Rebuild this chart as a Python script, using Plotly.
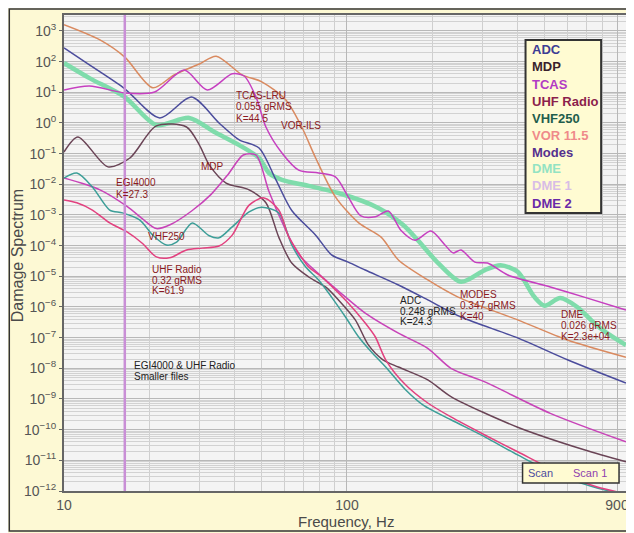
import plotly.graph_objects as go

# ---------------- data (Hz, damage spectrum) ----------------
vor_f = [10, 13.4, 16.4, 20.6, 24.5, 30.1, 34.5, 42.6, 50, 60.8, 69.2, 77.5, 91, 110, 132, 152, 193, 247, 401, 601, 968]
vor_v = [1.6e3, 5.1e2, 1.4e2, 14, 37, 84, 1.5e2, 37, 22, 5.6, 0.74, 0.072, 3.9e-3, 5.5e-4, 1.9e-4, 3.4e-5, 7.6e-6, 2.1e-6, 3.8e-7, 8.4e-8, 2.3e-8]

adc_f = [10, 12.3, 16.4, 21.8, 28.2, 35.3, 41.6, 48.9, 56.1, 63.8, 77.5, 88.2, 101, 116, 152, 193, 253, 401, 601, 968]
adc_v = [2.8e2, 78, 13, 1.46, 7.0, 1.0, 0.28, 0.153, 0.0139, 1.4e-3, 2.2e-4, 5.0e-5, 2.9e-5, 1.6e-5, 5.2e-6, 1.7e-6, 4.7e-7, 9.8e-8, 1.9e-8, 3.3e-9]

dme_f = [10, 12.3, 16.4, 21.2, 27.7, 34.0, 41.6, 48.9, 53, 58.9, 73.2, 93.3, 129, 158, 178, 210, 253, 307, 349, 401, 460, 499, 567, 651, 747, 830, 968]
dme_v = [90, 29, 7.0, 0.86, 1.46, 0.51, 0.19, 0.072, 0.0234, 0.0139, 8.9e-3, 5.2e-3, 1.7e-3, 4.7e-4, 1.5e-4, 2.7e-5, 6.6e-6, 1.6e-5, 2.3e-5, 1.4e-5, 2.1e-6, 1.1e-6, 1.96e-6, 1.0e-6, 3.0e-7, 1.4e-7, 5.7e-8]

tcas_f = [10, 12.3, 16.4, 20.9, 26.6, 32.1, 39.3, 43.3, 47.7, 51.7, 58.9, 67.5, 79.4, 91, 101, 112, 126, 140, 155, 174, 198, 222, 237, 253, 283, 314, 370, 523, 689, 968]
tcas_v = [11.9, 16, 9.5, 10.2, 53, 11.9, 40, 34, 7.0, 0.74, 0.105, 0.029, 0.0234, 0.0174, 3.9e-3, 9.3e-4, 8.7e-4, 1.35e-3, 3.2e-4, 1.5e-4, 3.0e-4, 1.05e-4, 5.8e-5, 7.2e-5, 2.9e-5, 2.7e-5, 1.1e-5, 4.5e-6, 2.1e-6, 8.0e-7]

mdp_f = [10, 11.2, 14.3, 17.1, 21.2, 27.1, 30.1, 32.6, 37.4, 45.1, 51.7, 57.4, 63.8, 73.2, 84, 93.3, 107, 119, 134, 152, 193, 233, 401, 689, 968]
mdp_v = [0.113, 0.35, 0.037, 0.072, 0.8, 0.74, 0.19, 0.043, 0.011, 6.6e-3, 2.5e-3, 1.9e-4, 2.7e-5, 9.5e-6, 4.5e-6, 1.7e-6, 3.8e-7, 5.8e-8, 1.9e-8, 1.1e-8, 4.2e-9, 1.2e-9, 1.2e-10, 2.2e-11, 8.9e-12]

egi_f = [10, 13.4, 16.7, 18.9, 21.2, 23.9, 28.4, 33.1, 38.0, 43.0, 47.7, 53.0, 59.6, 67.5, 79.4, 93.3, 116, 152, 193, 233, 307, 523, 968]
egi_v = [1.6e-2, 6.6e-3, 1.9e-3, 7.6e-4, 3.6e-4, 5.0e-4, 1.4e-3, 4.7e-3, 2.1e-2, 0.09, 0.09, 5.8e-3, 4.7e-4, 5.2e-5, 1.2e-5, 3.3e-6, 6.3e-7, 1.4e-7, 4.5e-8, 1.0e-8, 3.6e-9, 3.4e-10, 4.0e-11]

vhf_f = [10, 11.1, 12.6, 14.5, 16.1, 18.5, 20.6, 23.0, 25.0, 28.4, 32.6, 35.3, 39.3, 45.1, 50, 57.4, 63.8, 71.5, 79.4, 88.2, 98.8, 110, 122, 137, 161, 186, 233, 307, 401, 554, 766, 900]
vhf_v = [0.016, 0.0234, 8.2e-3, 1.45e-3, 1.17e-3, 6.9e-4, 2.2e-4, 1.05e-4, 1.3e-4, 5.5e-4, 2.1e-4, 1.8e-4, 4.1e-4, 1.26e-3, 1.8e-3, 1.17e-3, 1.05e-4, 2.0e-5, 7.6e-6, 2.1e-6, 4.7e-7, 1.05e-7, 3.4e-8, 1.1e-8, 2.0e-9, 6.3e-10, 2.1e-10, 5.8e-11, 1.5e-11, 3.3e-12, 1.26e-12, 8.7e-13]

uhf_f = [10, 11.1, 12.6, 14.5, 16.7, 18.9, 21.2, 23.6, 27.1, 30.8, 35.3, 39.3, 45.1, 50.9, 57.4, 62.3, 67.5, 73.2, 81.4, 91, 101, 116, 126, 137, 161, 193, 233, 307, 401, 554, 766, 937]
uhf_v = [3.1e-3, 2.5e-3, 1.45e-3, 5.5e-4, 2.8e-4, 1.2e-4, 4.3e-5, 4.0e-5, 7.2e-5, 8.3e-5, 9.7e-5, 2.2e-4, 2.1e-3, 3.6e-3, 1.45e-3, 1.9e-4, 5.8e-5, 2.0e-5, 9.5e-6, 3.6e-6, 1.35e-6, 3.0e-7, 1.05e-7, 1.9e-8, 2.9e-9, 7.4e-10, 2.6e-10, 6.7e-11, 1.9e-11, 4.2e-12, 1.35e-12, 8.7e-13]

scan_marker_hz = 16.4

x_tickvals = [10, 100, 900]
x_ticktext = ["10", "100", "900"]
y_exponents = list(range(-12, 4))

legend_names = ["ADC", "MDP", "TCAS", "UHF Radio", "VHF250", "VOR 11.5", "Modes", "DME", "DME 1", "DME 2"]
legend_colors = ["#3d3d94", "#3a1f2c", "#b23cc4", "#8c1f4c", "#1f5e4c", "#ef8a8a", "#55308e", "#93e3c3", "#d8bde6", "#6a2aa8"]

# ---------------- figure ----------------
fig = go.Figure()

def add_line(fx, vy, name, color, width):
    fig.add_trace(go.Scatter(x=fx, y=vy, mode="lines", name=name,
                             line=dict(color=color, width=width, shape="spline", smoothing=0.8),
                             showlegend=False, hoverinfo="skip"))

add_line(dme_f, dme_v, "DME", "#7fdcab", 4.5)
add_line(vor_f, vor_v, "VOR 11.5", "#d98a60", 1.5)
add_line(adc_f, adc_v, "ADC", "#4b4c9c", 1.5)
add_line(tcas_f, tcas_v, "TCAS", "#c63fc0", 1.5)
add_line(mdp_f, mdp_v, "MDP", "#6a4456", 1.5)
add_line(egi_f, egi_v, "DME 2", "#c843b8", 1.5)
add_line(vhf_f, vhf_v, "VHF250", "#3d9e98", 1.5)
add_line(uhf_f, uhf_v, "UHF Radio", "#e2417f", 1.5)

fig.add_trace(go.Scatter(x=[scan_marker_hz, scan_marker_hz], y=[1e-12, 10 ** 3.56], mode="lines",
                         line=dict(color="#c98fd6", width=2.5), showlegend=False, hoverinfo="skip"))

# page body has an 8px margin: work in window pixels, shift by OFF
OFF = 8
W, H = 634 - OFF, 533 - OFF
ml, mr, mt, mb = 64 - OFF, 5, 15 - OFF, 42
pw, ph = W - ml - mr, H - mt - mb

def px(x):
    return (x - OFF - ml) / pw

def py(y):
    return (H - mb - (y - OFF)) / ph

ann = []
red = "#8a1a22"
FONT = "Arial, Liberation Sans, sans-serif"

def note(lines, x, y, color=red, size=10, step=11):
    for k, t in enumerate(lines):
        ann.append(dict(text=t, x=px(x), y=py(y + step * k), xref="paper", yref="paper",
                        xanchor="left", yanchor="middle", showarrow=False,
                        font=dict(family=FONT, size=size, color=color)))

note(["TCAS-LRU", "0.055 gRMS", "K=44.5"], 235, 96)
note(["VOR-ILS"], 280, 126)
note(["MDP"], 200, 166)
note(["EGI4000", "K=27.3"], 114, 183)
note(["VHF250"], 146, 236)
note(["UHF Radio", "0.32 gRMS", "K=61.9"], 150, 269)
note(["ADC", "0.248 gRMS", "K=24.3"], 400, 300, color="#222222")
note(["MODES", "0.347 gRMS", "K=40"], 460, 294)
note(["DME", "0.026 gRMS", "K=2.3e+04"], 562, 314)
note(["EGI4000 &amp; UHF Radio", "Smaller files"], 132, 365, color="#222222")

# custom legend (colored text entries)
for i, (nm, col) in enumerate(zip(legend_names, legend_colors)):
    ann.append(dict(text="<b>%s</b>" % nm, x=px(532), y=py(50 + 17 * i), xref="paper", yref="paper",
                    xanchor="left", yanchor="middle", showarrow=False,
                    font=dict(family=FONT, size=13, color=col)))

ann.append(dict(text="Scan", x=px(543), y=py(473), xref="paper", yref="paper", showarrow=False,
                xanchor="center", yanchor="middle",
                font=dict(family=FONT, size=11, color="#4d4d9e")))
ann.append(dict(text="Scan 1", x=px(593), y=py(473), xref="paper", yref="paper", showarrow=False,
                xanchor="center", yanchor="middle",
                font=dict(family=FONT, size=11, color="#8e3fae")))

ann.append(dict(text="Damage Spectrum", x=px(17), y=py(256), xref="paper", yref="paper", textangle=-90,
                xanchor="center", yanchor="middle",
                showarrow=False, font=dict(family=FONT, size=16, color="#4a4a4a")))
ann.append(dict(text="Frequency, Hz", x=px(348), y=py(521), xref="paper", yref="paper",
                xanchor="center", yanchor="middle",
                showarrow=False, font=dict(family=FONT, size=15, color="#4a4a4a")))

shapes = [
    dict(type="rect", xref="paper", yref="paper", x0=px(9), x1=px(632), y0=py(531), y1=py(9),
         line=dict(color="#333333", width=1.5), fillcolor="rgba(0,0,0,0)", layer="above"),
    dict(type="rect", xref="paper", yref="paper", x0=px(528), x1=px(604), y0=py(213), y1=py(40),
         line=dict(color="#333333", width=2), fillcolor="#fffbd2", layer="above"),
    dict(type="rect", xref="paper", yref="paper", x0=px(525), x1=px(622), y0=py(483), y1=py(463),
         line=dict(color="#333333", width=1.5), fillcolor="#fffbd2", layer="above"),
]

fig.update_layout(
    width=W, height=H,
    margin=dict(l=ml, r=mr, t=mt, b=mb),
    paper_bgcolor="#fdf9d4",
    plot_bgcolor="#f4f4f4",
    annotations=ann, shapes=shapes,
    showlegend=False,
    font=dict(family=FONT),
)

fig.update_xaxes(type="log", range=[1, 2.986], tickmode="array", tickvals=x_tickvals, ticktext=x_ticktext,
                 tickfont=dict(size=14, color="#555555"), ticks="", showgrid=True, gridcolor="#b8b8b8",
                 minor=dict(dtick="D1", showgrid=True, gridcolor="#cfcfcf", ticks=""),
                 showline=True, linecolor="#666666", linewidth=2, mirror=True, zeroline=False)
fig.update_yaxes(type="log", range=[-12, 3.52], tickmode="array",
                 tickvals=[10.0 ** e for e in y_exponents],
                 ticktext=["10<sup>%s</sup>" % (str(e) if e >= 0 else "\u2212" + str(-e)) for e in y_exponents],
                 tickfont=dict(size=14, color="#555555"), ticks="outside", ticklen=3, tickcolor="#666666",
                 showgrid=True, gridcolor="#b8b8b8",
                 minor=dict(dtick="D1", showgrid=True, gridcolor="#d2d2d2", ticks=""),
                 showline=True, linecolor="#666666", linewidth=2, mirror=True, zeroline=False)

fig.write_html("out.html")
